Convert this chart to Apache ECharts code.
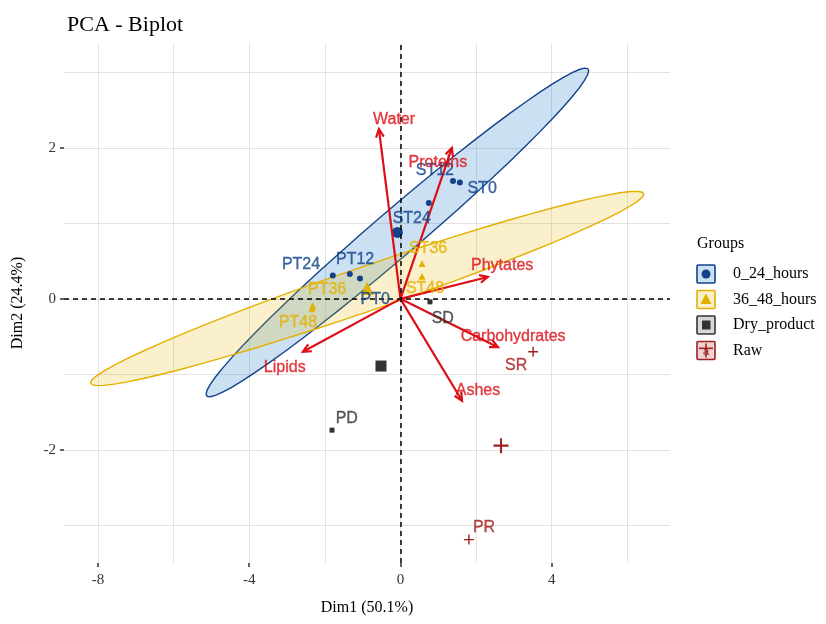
<!DOCTYPE html>
<html>
<head>
<meta charset="utf-8">
<title>PCA - Biplot</title>
<script src="https://cdn.jsdelivr.net/npm/echarts@6/dist/echarts.min.js"></script>
<style>
  html, body { margin: 0; padding: 0; background: #fff; }
  #chart { width: 826px; height: 624px; }
</style>
</head>
<body>
<div id="chart"></div>
<script>
// groups (legend order)
var groupNames = ["0_24_hours", "36_48_hours", "Dry_product", "Raw"];

// individuals: [Dim1, Dim2], and where their (repelled) labels sit
var names24 = ["ST0", "ST12", "ST24", "PT0", "PT12", "PT24"];
var pts24 = [[1.57, 1.54], [1.39, 1.56], [0.75, 1.27], [-1.07, 0.27], [-1.34, 0.33], [-1.79, 0.31]];
var lab24 = [[2.16, 1.46], [0.91, 1.70], [0.30, 1.07], [-0.67, -0.01], [-1.20, 0.52], [-2.63, 0.46]];

var names48 = ["ST36", "ST48", "PT36", "PT48"];
var pts48 = [[0.57, 0.47], [0.57, 0.30], [-2.32, -0.09], [-2.34, -0.13]];
var lab48 = [[0.73, 0.66], [0.65, 0.13], [-1.94, 0.12], [-2.71, -0.32]];

var namesDry = ["SD", "PD"];
var ptsDry = [[0.78, -0.04], [-1.81, -1.74]];
var labDry = [[1.12, -0.26], [-1.42, -1.59]];

var namesRaw = ["SR", "PR"];
var ptsRaw = [[3.51, -0.70], [1.81, -3.19]];
var labRaw = [[3.06, -0.89], [2.21, -3.03]];

// variables (arrow tips) and their label positions
var varNames = ["Water", "Proteins", "Phytates", "Carbohydrates", "Ashes", "Lipids"];
var varTips = [[-0.57, 2.25], [1.36, 2.00], [2.31, 0.29], [2.58, -0.64], [1.63, -1.35], [-2.58, -0.70]];
var varLabels = [[-0.17, 2.38], [0.99, 1.80], [2.69, 0.44], [2.98, -0.50], [2.05, -1.21], [-3.06, -0.91]];

// axis ticks
var xTicks = [-8, -4, 0, 4];
var xGrid = [-8, -6, -4, -2, 0, 2, 4, 6];
var yTicks = [-2, 0, 2];
var yGrid = [-3, -2, -1, 0, 1, 2, 3];

var colors = ["#12428a", "#e3b000", "#333333", "#a01f1f"];
var fills = ["rgba(25,115,200,0.22)", "rgba(231,184,0,0.2)", "rgba(60,60,60,0.2)", "rgba(165,42,42,0.2)"];
var red = "#dc0f16";
var serif = "'Liberation Serif', 'Times New Roman', serif";
var sans = "'Liberation Sans', Arial, sans-serif";
var plusPath = "path://M4.3,0h1.4v4.3h4.3v1.4h-4.3v4.3h-1.4v-4.3h-4.3v-1.4h4.3z";
var symbols = ["circle", "triangle", "rect", plusPath];
var smallSize = [6, 7, 5, 10];
var bigSize = [11, 13, 11, 15];

var groups = [
  { names: names24, pts: pts24, lab: lab24 },
  { names: names48, pts: pts48, lab: lab48 },
  { names: namesDry, pts: ptsDry, lab: labDry },
  { names: namesRaw, pts: ptsRaw, lab: labRaw }
];

function mean(pts) {
  var mx = 0, my = 0;
  pts.forEach(function (p) { mx += p[0]; my += p[1]; });
  return [mx / pts.length, my / pts.length];
}

// normal confidence ellipse, like stat_ellipse(type = "norm", level = 0.95)
function ellipse(pts, level) {
  var n = pts.length, c = mean(pts);
  var sxx = 0, syy = 0, sxy = 0;
  pts.forEach(function (p) {
    var dx = p[0] - c[0], dy = p[1] - c[1];
    sxx += dx * dx; syy += dy * dy; sxy += dx * dy;
  });
  sxx /= n - 1; syy /= n - 1; sxy /= n - 1;
  var d = n - 1;
  var q = (d / 2) * (Math.pow(1 - level, -2 / d) - 1); // qf(level, 2, d)
  var r = Math.sqrt(2 * q);
  var r11 = Math.sqrt(sxx), r12 = sxy / r11, r22 = Math.sqrt(Math.max(syy - r12 * r12, 0));
  var out = [];
  for (var i = 0; i <= 60; i++) {
    var t = (i / 60) * 2 * Math.PI;
    var u = Math.cos(t), v = Math.sin(t);
    out.push([c[0] + r * u * r11, c[1] + r * (u * r12 + v * r22)]);
  }
  return out;
}

var chart = echarts.init(document.getElementById("chart"));
window.addEventListener("resize", chart.resize);

var series = [];

// ellipses for groups with more than 2 individuals
groups.forEach(function (g, gi) {
  if (g.pts.length < 3) return;
  var poly = ellipse(g.pts, 0.95);
  series.push({
    type: "custom",
    z: 1,
    silent: true,
    data: [mean(g.pts)],
    renderItem: function (params, api) {
      return {
        type: "polygon",
        shape: { points: poly.map(function (p) { return api.coord(p); }) },
        style: { fill: fills[gi], stroke: colors[gi], lineWidth: 1.4 }
      };
    }
  });
});

// zero lines
series.push({
  type: "scatter",
  z: 2,
  data: [],
  markLine: {
    silent: true,
    symbol: "none",
    label: { show: false },
    lineStyle: { color: "#000", type: [5, 4], width: 1.5 },
    data: [{ xAxis: 0 }, { yAxis: 0 }]
  }
});

// points and group means
groups.forEach(function (g, gi) {
  var data = g.pts.map(function (p, i) {
    return { name: g.names[i], value: p };
  });
  data.push({ name: "mean", value: mean(g.pts), symbolSize: bigSize[gi] });
  series.push({
    type: "scatter",
    z: 3,
    silent: true,
    symbol: symbols[gi],
    symbolSize: smallSize[gi],
    itemStyle: { color: colors[gi], opacity: 1 },
    data: data
  });
});

// variable arrows
series.push({
  type: "custom",
  z: 4,
  silent: true,
  data: varTips,
  renderItem: function (params, api) {
    var o = api.coord([0, 0]);
    var p = api.coord([api.value(0), api.value(1)]);
    var ang = Math.atan2(p[1] - o[1], p[0] - o[0]);
    var L = 9, a = Math.PI / 7;
    var h1 = [p[0] - L * Math.cos(ang - a), p[1] - L * Math.sin(ang - a)];
    var h2 = [p[0] - L * Math.cos(ang + a), p[1] - L * Math.sin(ang + a)];
    return {
      type: "group",
      children: [
        { type: "line", shape: { x1: o[0], y1: o[1], x2: p[0], y2: p[1] },
          style: { stroke: red, lineWidth: 2.2 } },
        { type: "polyline", shape: { points: [h1, p, h2] },
          style: { stroke: red, lineWidth: 2.2, fill: null } }
      ]
    };
  }
});

function labelStyle(color) {
  return {
    show: true, position: "inside", formatter: "{b}",
    color: color, fontFamily: sans, fontSize: 16,
    textBorderColor: color, textBorderWidth: 0.35
  };
}

// labels of individuals
groups.forEach(function (g, gi) {
  series.push({
    type: "scatter",
    z: 5,
    silent: true,
    symbolSize: 1,
    itemStyle: { color: "transparent" },
    label: labelStyle(colors[gi]),
    data: g.lab.map(function (p, i) { return { name: g.names[i], value: p }; })
  });
});

// labels of variables
series.push({
  type: "scatter",
  z: 5,
  silent: true,
  symbolSize: 1,
  itemStyle: { color: "transparent" },
  label: labelStyle(red),
  data: varLabels.map(function (p, i) { return { name: varNames[i], value: p }; })
});

// legend drawn as ggplot keys
var legend = [{
  type: "text", left: 697, top: 236,
  style: { text: "Groups", font: "16px " + serif, fill: "#000" }
}];
groupNames.forEach(function (name, gi) {
  var cy = 274 + gi * 25.5;
  var key = [
    { type: "rect", shape: { x: 697, y: cy - 9, width: 18, height: 18, r: 1 },
      style: { fill: fills[gi], stroke: colors[gi], lineWidth: 1.6 } }
  ];
  if (gi === 0) key.push({ type: "circle", shape: { cx: 706, cy: cy, r: 4.5 }, style: { fill: colors[gi] } });
  if (gi === 1) key.push({ type: "polygon", shape: { points: [[706, cy - 6], [711.5, cy + 4.5], [700.5, cy + 4.5]] }, style: { fill: colors[gi] } });
  if (gi === 2) key.push({ type: "rect", shape: { x: 702, y: cy - 4.5, width: 8.5, height: 9 }, style: { fill: colors[gi] } });
  if (gi === 3) {
    key.push({ type: "rect", shape: { x: 705.2, y: cy - 7, width: 1.6, height: 14 }, style: { fill: colors[gi] } });
    key.push({ type: "rect", shape: { x: 699, y: cy - 3, width: 14, height: 1.6 }, style: { fill: colors[gi] } });
  }
  key.push({ type: "text", x: 706, y: cy + 1, style: { text: "a", font: "11px " + sans, fill: colors[gi], align: "center", verticalAlign: "middle" } });
  key.push({ type: "text", x: 733, y: cy, style: { text: name, font: "16px " + serif, fill: "#000", verticalAlign: "middle" } });
  legend = legend.concat(key);
});

var axisBase = {
  type: "value",
  axisLine: { show: false, onZero: false },
  axisTick: { show: false },
  axisLabel: { show: false },
  splitLine: { show: false }
};

var option = {
  animation: false,
  backgroundColor: "#fff",
  title: {
    text: "PCA - Biplot",
    left: 62, top: 9,
    textStyle: { fontFamily: serif, fontSize: 22, fontWeight: "normal", color: "#000" }
  },
  grid: { left: 64, top: 43, width: 606, height: 520 },
  xAxis: [
    Object.assign({}, axisBase, {
      min: -8.9, max: 7.13, position: "bottom",
      name: "Dim1 (50.1%)", nameLocation: "middle", nameGap: 37,
      nameTextStyle: { fontFamily: serif, fontSize: 16, color: "#000" },
      axisTick: { show: false, customValues: xGrid },
      axisLabel: { show: true, customValues: xTicks, margin: 10, fontFamily: serif, fontSize: 15, color: "#333" },
      splitLine: { show: true, lineStyle: { color: "#e2e2e2", width: 1 } }
    }),
    Object.assign({}, axisBase, {
      min: -8.9, max: 7.13, position: "bottom",
      axisTick: { show: true, customValues: xTicks, length: 4, lineStyle: { color: "#333", width: 1.5 } }
    })
  ],
  yAxis: [
    Object.assign({}, axisBase, {
      min: -3.5, max: 3.39, position: "left",
      name: "Dim2 (24.4%)", nameLocation: "middle", nameGap: 38, nameRotate: 90,
      nameTextStyle: { fontFamily: serif, fontSize: 16, color: "#000" },
      axisTick: { show: false, customValues: yGrid },
      axisLabel: { show: true, customValues: yTicks, margin: 8, fontFamily: serif, fontSize: 15, color: "#333" },
      splitLine: { show: true, lineStyle: { color: "#e2e2e2", width: 1 } }
    }),
    Object.assign({}, axisBase, {
      min: -3.5, max: 3.39, position: "left",
      axisTick: { show: true, customValues: yTicks, length: 4, lineStyle: { color: "#333", width: 1.5 } }
    })
  ],
  graphic: legend,
  series: series
};

chart.setOption(option);
</script>
</body>
</html>
